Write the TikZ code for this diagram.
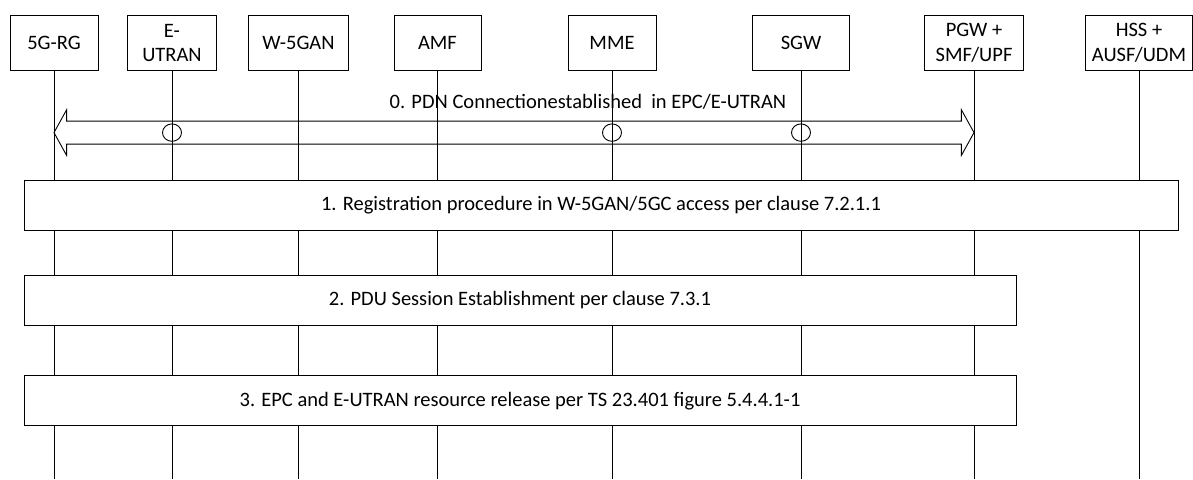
\documentclass[tikz,border=0pt]{standalone}
\usepackage{fontspec}
\setmainfont{Carlito}
\usetikzlibrary{calc,positioning}

\tikzset{
  entity/.style={draw, line width=0.9pt, fill=white, align=center, minimum height=55pt, inner sep=2pt},
  stepbox/.style={draw, line width=0.9pt, fill=white, minimum height=50pt},
  lifeline/.style={line width=0.8pt},
}

\begin{document}
\begin{tikzpicture}[x=1pt, y=-1pt, font=\fontsize{20.5}{24.5}\selectfont]

\useasboundingbox (0,0) rectangle (1193,479);

% Define lengths
\def\boxy{43}
\def\lineend{479}
\def\arrowy{132.6}

% Draw the entities
\node[entity, minimum width=88pt]  (rg)     at (54,\boxy)    {5G-RG};
\node[entity, minimum width=89pt]  (eutran) at (172,\boxy)   {E-\\UTRAN};
\node[entity, minimum width=100pt] (w5gan)  at (298.5,\boxy) {W-5GAN};
\node[entity, minimum width=87pt]  (amf)    at (437.5,\boxy) {AMF};
\node[entity, minimum width=88pt]  (mme)    at (612,\boxy)   {MME};
\node[entity, minimum width=97pt]  (sgw)    at (801,\boxy)   {SGW};
\node[entity, minimum width=99pt]  (pgw)    at (974,\boxy)   {PGW +\\SMF/UPF};
\node[entity, minimum width=107pt] (hss)    at (1139,\boxy)  {HSS +\\AUSF/UDM};

% Draw the lifelines
\foreach \e in {rg,eutran,w5gan,amf,mme,sgw,pgw,hss}
  \draw[lifeline] (\e.south) -- (\e.south |- 0,\lineend);

% Draw the block arrow of step 0
\coordinate (left)  at (rg.south |- 0,\arrowy);
\coordinate (right) at (pgw.south |- 0,\arrowy);
\draw[line width=0.9pt]
  (left) -- ++(12.6,-22.8) -- ++(0,11.3) -- ($(right)+(-12.6,-11.5)$)
  -- ++(0,-11.3) -- (right) -- ++(-12.6,22.8) -- ++(0,-11.3)
  -- ($(left)+(12.6,11.5)$) -- ++(0,11.3) -- cycle;
\node (pdn) at (588,102) {0. PDN Connectionestablished~ in EPC/E-UTRAN};

% Circles on the lifelines
\foreach \e in {eutran,mme,sgw}
  \draw[line width=0.9pt] (\e.south |- 0,\arrowy) ellipse (9.5 and 8.7);

% Draw the steps
\node[stepbox, minimum width=1154pt] (reg) at (601,205.6)
  {1. Registration procedure in W-5GAN/5GC access per clause 7.2.1.1};
\node[stepbox, minimum width=992pt] (pdu) at (520,300)
  {2. PDU Session Establishment per clause 7.3.1};
\node[stepbox, minimum width=992pt] (rel) at (520,400.7)
  {3. EPC and E-UTRAN resource release per TS 23.401 figure 5.4.4.1-1};

\end{tikzpicture}
\end{document}
